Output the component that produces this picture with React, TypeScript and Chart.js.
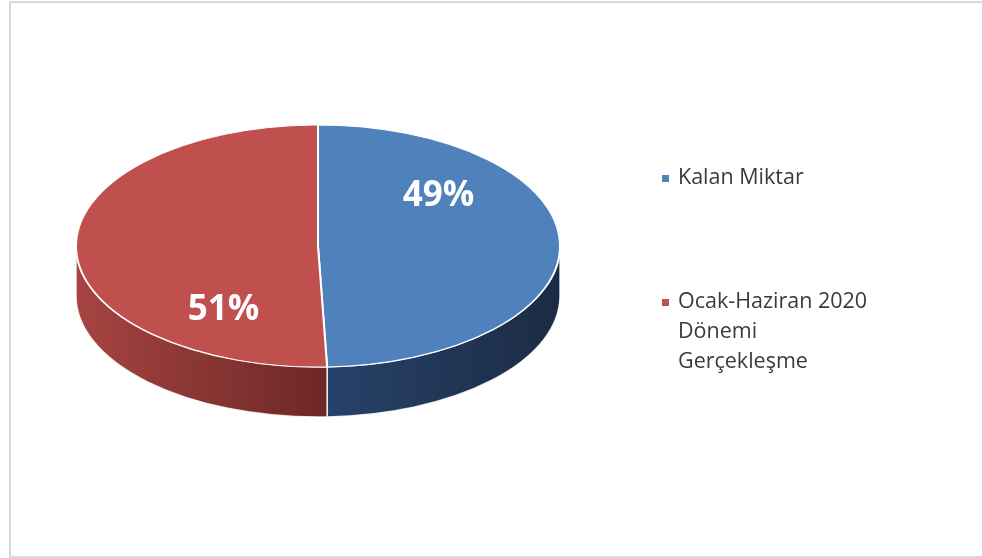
import React, { useEffect, useRef } from "react";
import { Chart, registerables } from "chart.js";

Chart.register(...registerables);

// ---- data ----
const categories: string[] = ["Kalan Miktar", "Ocak-Haziran 2020 Dönemi Gerçekleşme"];
const shares: number[] = [49.4, 50.6];

// ---- styles ----
const TOP_COLORS = ["#4F81BD", "#C0504D"];
const SIDE_GRADIENTS = [
  ["#274269", "#1B2B44"],
  ["#A64441", "#6C2726"],
];
const TILT = 0.5; // vertical squash of the top face
const DEPTH = 50; // thickness of the 3D side
const LABEL_ROT = (45.5 * Math.PI) / 180;
const LABEL_FRAC = 0.646;
const LABEL_DX = 13;
const LABEL_DY = 6;
const FONT = '"Open Sans", "DejaVu Sans", sans-serif';

const LEGEND_X = 662;
const LEGEND_FIRST_Y = 178;
const LEGEND_ITEM_GAP = 124;
const LEGEND_LINE_H = 30;
const LEGEND_MAX_W = 195;

function wrap(ctx: CanvasRenderingContext2D, text: string, maxW: number): string[] {
  const words = text.split(" ");
  const lines: string[] = [];
  let cur = "";
  for (const w of words) {
    const t = cur ? cur + " " + w : w;
    if (cur && ctx.measureText(t).width > maxW) {
      lines.push(cur);
      cur = w;
    } else cur = t;
  }
  if (cur) lines.push(cur);
  return lines;
}

const pie3d = {
  id: "pie3d",
  beforeDatasetsDraw(chart: any) {
    const ctx: CanvasRenderingContext2D = chart.ctx;
    const arcs = chart.getDatasetMeta(0).data;
    chart.$pieSaved = false;
    if (!arcs.length) return;
    const cx = arcs[0].x;
    const cy = arcs[0].y;
    arcs.forEach((arc: any, i: number) => {
      const { startAngle, endAngle, outerRadius: r } = arc.getProps(["startAngle", "endAngle", "outerRadius"]);
      const ry = r * TILT;
      for (const base of [-2 * Math.PI, 0, 2 * Math.PI]) {
        const s = Math.max(startAngle, base);
        const e = Math.min(endAngle, base + Math.PI);
        if (e <= s) continue;
        const xs = cx + r * Math.cos(s);
        const xe = cx + r * Math.cos(e);
        const g = ctx.createLinearGradient(Math.min(xs, xe), 0, Math.max(xs, xe), 0);
        g.addColorStop(0, SIDE_GRADIENTS[i][0]);
        g.addColorStop(1, SIDE_GRADIENTS[i][1]);
        ctx.save();
        ctx.beginPath();
        ctx.ellipse(cx, cy, r, ry, 0, s, e);
        ctx.lineTo(cx + r * Math.cos(e), cy + ry * Math.sin(e) + DEPTH);
        ctx.ellipse(cx, cy + DEPTH, r, ry, 0, e, s, true);
        ctx.closePath();
        ctx.fillStyle = g;
        ctx.fill();
        ctx.strokeStyle = "rgba(255,255,255,0.85)";
        ctx.lineWidth = 1.5;
        ctx.lineJoin = "round";
        ctx.stroke();
        ctx.restore();
      }
    });
    ctx.save();
    ctx.translate(cx, cy);
    ctx.scale(1, TILT);
    ctx.translate(-cx, -cy);
    chart.$pieSaved = true;
  },
  afterDatasetsDraw(chart: any) {
    const ctx: CanvasRenderingContext2D = chart.ctx;
    if (chart.$pieSaved) ctx.restore();
    const arcs = chart.getDatasetMeta(0).data;
    const values: number[] = chart.data.datasets[0].data;
    const total = values.reduce((a, b) => a + b, 0);
    ctx.save();
    ctx.fillStyle = "#FFFFFF";
    ctx.font = `bold 35px ${FONT}`;
    ctx.textAlign = "center";
    ctx.textBaseline = "middle";
    arcs.forEach((arc: any, i: number) => {
      const { startAngle, endAngle, outerRadius: r, x, y } = arc.getProps(["startAngle", "endAngle", "outerRadius", "x", "y"]);
      const mid = (startAngle + endAngle) / 2 - LABEL_ROT;
      const lx = x + LABEL_DX + LABEL_FRAC * r * Math.cos(mid);
      const ly = y + LABEL_DY + LABEL_FRAC * r * TILT * Math.sin(mid);
      ctx.fillText(`${Math.round((values[i] / total) * 100)}%`, lx, ly + 1);
    });
    ctx.restore();
  },
  afterDraw(chart: any) {
    const ctx: CanvasRenderingContext2D = chart.ctx;
    const labels: string[] = chart.data.labels;
    const colors: string[] = chart.data.datasets[0].backgroundColor;
    ctx.save();
    ctx.font = `21.5px ${FONT}`;
    ctx.textBaseline = "middle";
    ctx.textAlign = "left";
    let y = LEGEND_FIRST_Y;
    labels.forEach((lab, i) => {
      ctx.fillStyle = colors[i];
      ctx.fillRect(LEGEND_X, y - 3, 7, 7);
      ctx.fillStyle = "#3A3A3A";
      const lines = wrap(ctx, lab, LEGEND_MAX_W);
      lines.forEach((ln, j) => ctx.fillText(ln, LEGEND_X + 16, y + j * LEGEND_LINE_H));
      y += LEGEND_ITEM_GAP;
    });
    ctx.restore();
  },
};

export default function App() {
  const ref = useRef<HTMLCanvasElement | null>(null);
  useEffect(() => {
    if (!ref.current) return;
    const chart = new Chart(ref.current, {
      type: "pie",
      data: {
        labels: categories,
        datasets: [
          {
            data: shares,
            backgroundColor: TOP_COLORS,
            borderColor: "#FFFFFF",
            borderWidth: 2,
          },
        ],
      },
      options: {
        responsive: false,
        animation: false,
        devicePixelRatio: 1,
        layout: { padding: { left: 75, right: 421, top: 3, bottom: 69 } },
        plugins: {
          legend: { display: false },
          tooltip: { enabled: false },
          title: { display: false },
        },
      },
      plugins: [pie3d],
    } as any);
    return () => chart.destroy();
  }, []);
  return (
    <div
      style={{
        position: "absolute",
        left: 0,
        top: 0,
        width: 982,
        height: 558,
        overflow: "hidden",
        background: "#FFFFFF",
      }}
    >
      <div
        style={{
          position: "absolute",
          left: 9,
          top: 1,
          width: 1000,
          height: 557,
          boxSizing: "border-box",
          border: "2px solid #D9D9D9",
        }}
      />
      <canvas ref={ref} width={982} height={558} style={{ position: "absolute", left: 0, top: 0 }} />
    </div>
  );
}
